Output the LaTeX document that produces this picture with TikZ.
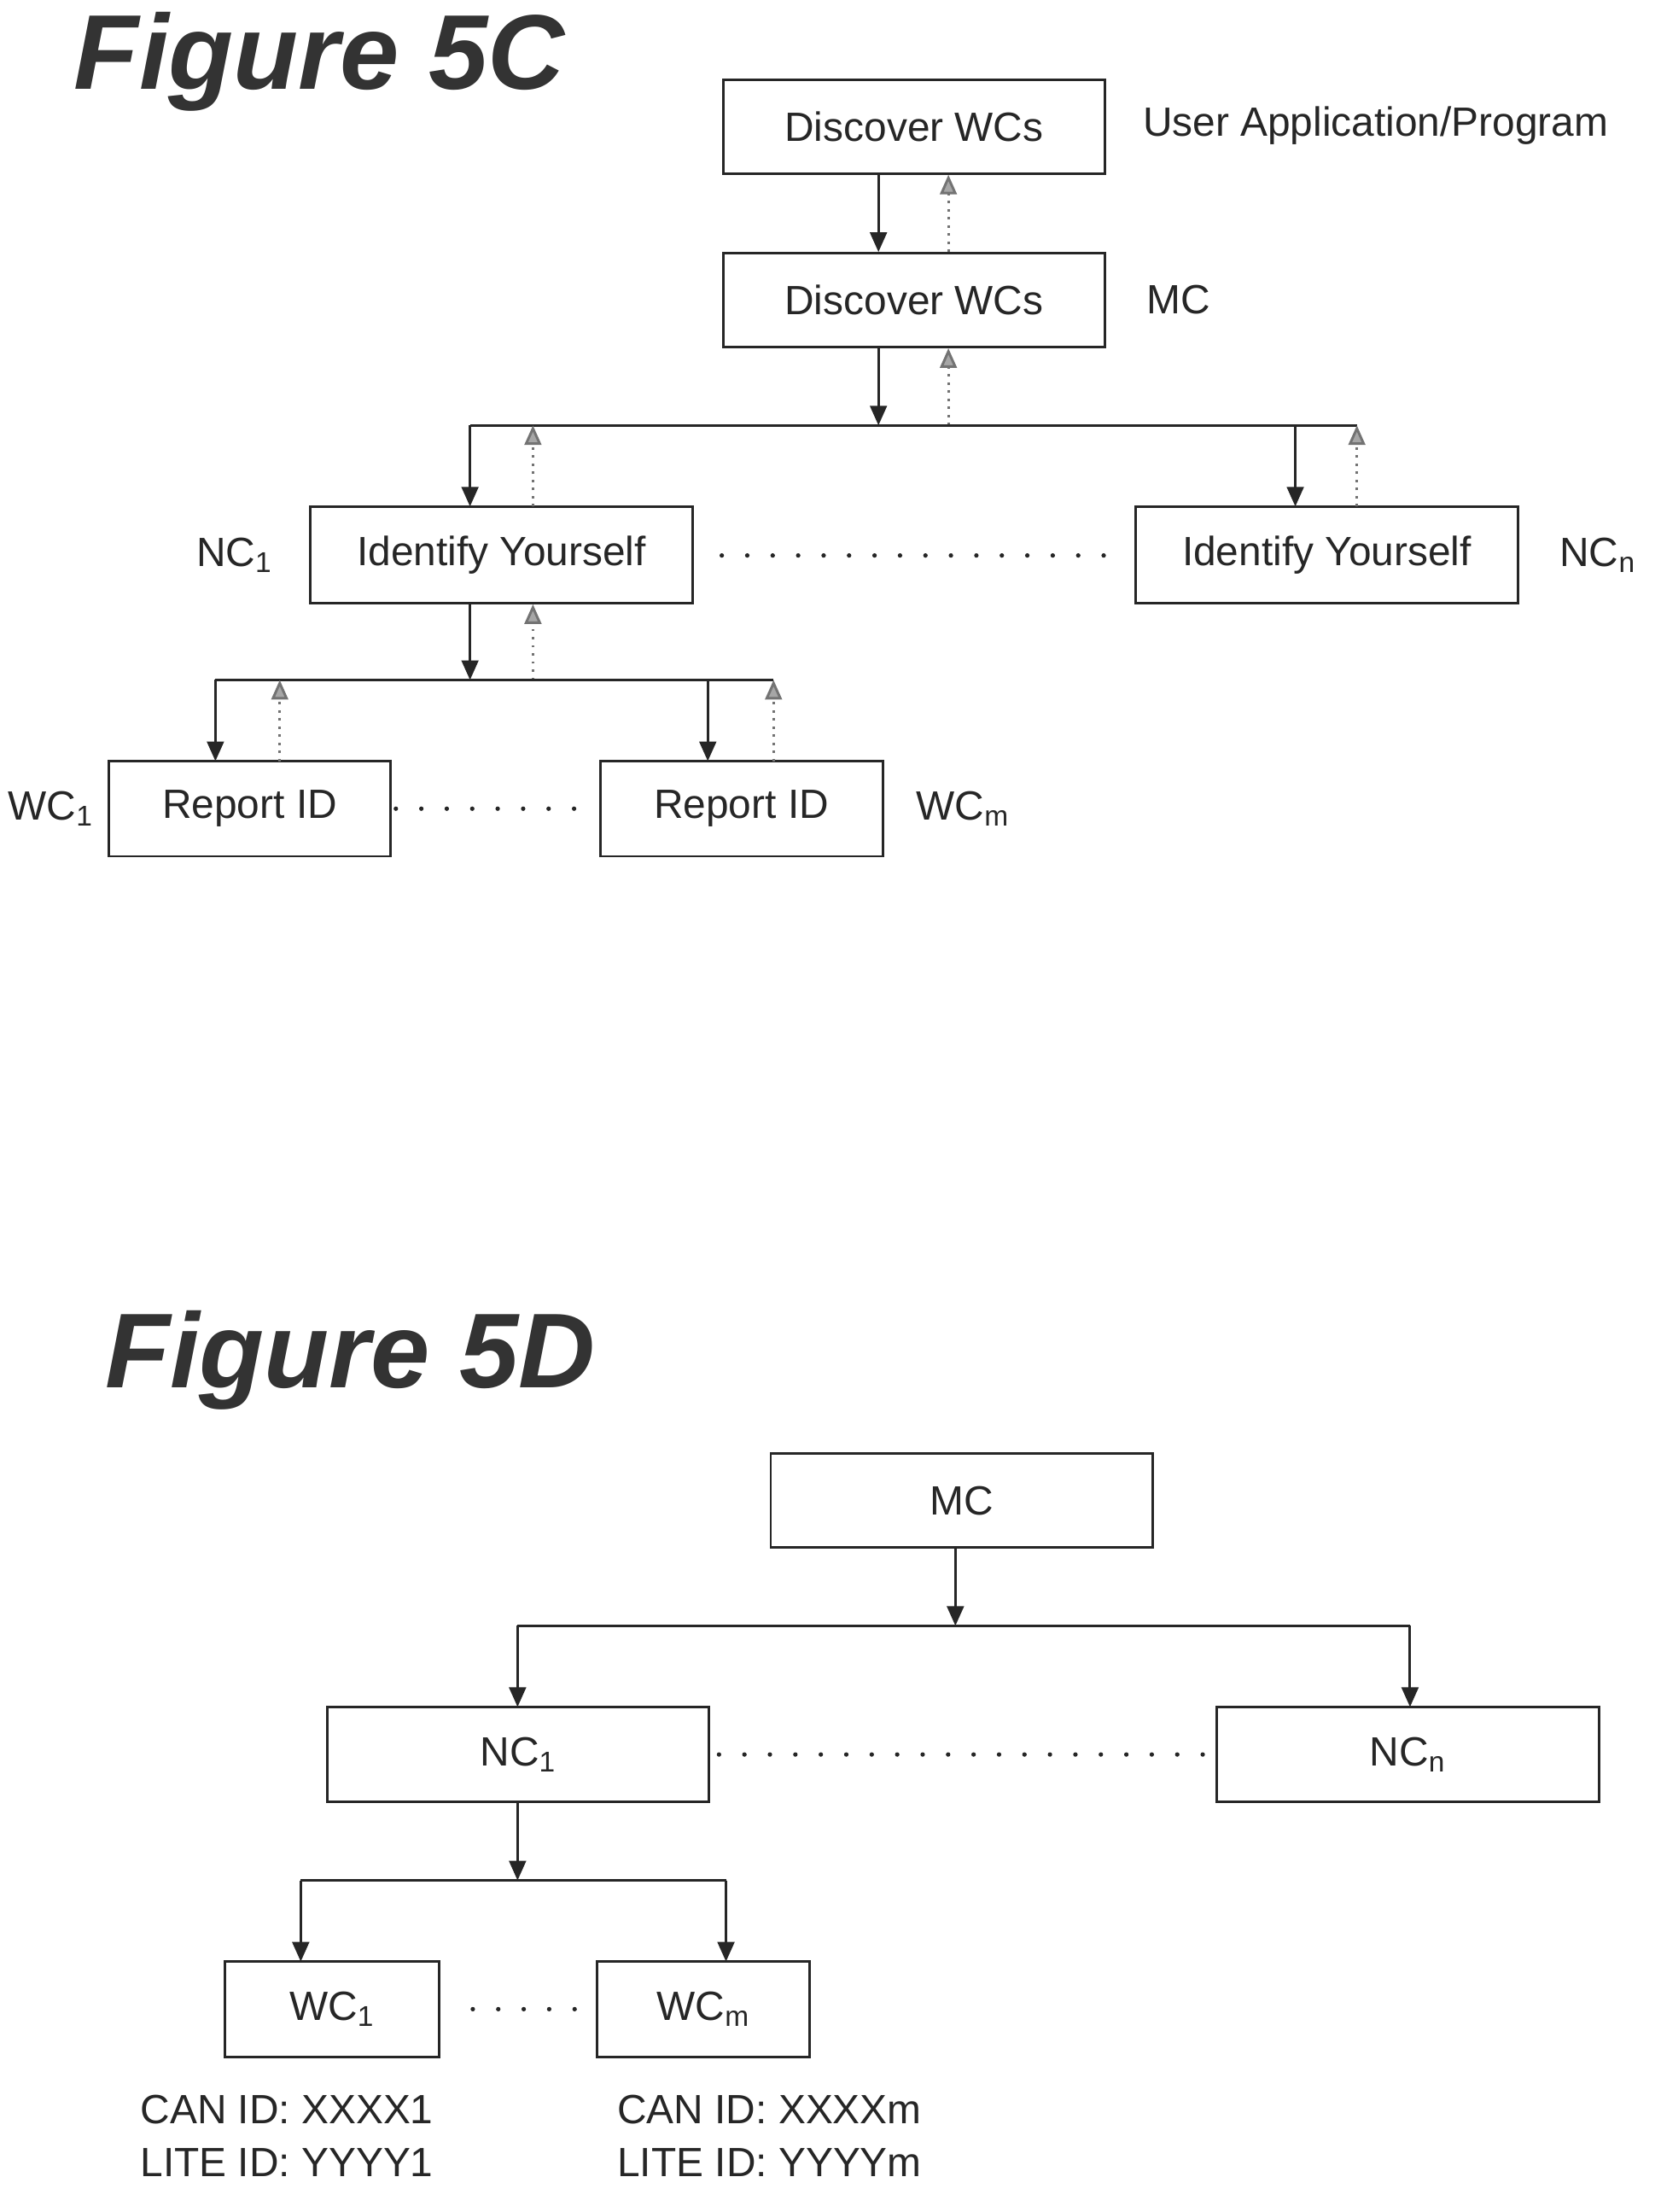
\documentclass[tikz,border=0pt]{standalone}
\usepackage{fontspec}
\setmainfont{Liberation Sans}
\usetikzlibrary{arrows.meta}
\begin{document}
\begin{tikzpicture}[x=0.5pt,y=-0.5pt,
  box/.style={draw=black!85,line width=0.9pt,inner sep=0pt},
  txt/.style={font=\fontsize{14.6}{16}\selectfont,text=black!85},
  ttl/.style={font=\fontsize{38}{40}\selectfont\bfseries\itshape,text=black!80},
  ln/.style={draw=black!85,line width=0.9pt},
  dn/.style={ln,-{Triangle[width=6pt,length=7pt]}},
  up/.style={draw=black!55,line width=0.9pt,dotted,-{Triangle[fill=black!35,width=6pt,length=7pt]}},
  dots/.style={draw=black!85,line width=1.6pt,dash pattern=on 0pt off 9.1pt,line cap=round}]
\useasboundingbox (0,0) rectangle (1187,1581);
% Figure 5C
\node[ttl,anchor=west] (t1) at (46,44) {Figure 5C};
\node[box,minimum width=136.5pt,minimum height=33.5pt,txt] (b1) at (653.5,90.5) {Discover WCs};
\node[txt,anchor=west] (l1) at (810,90) {User Application/Program};
\node[box,minimum width=136.5pt,minimum height=33.5pt,txt] (b2) at (653.5,214.5) {Discover WCs};
\node[txt,anchor=west] (l2) at (813,214) {MC};
\node[box,minimum width=136.5pt,minimum height=34.5pt,txt] (n1) at (358.5,396.5) {Identify Yourself};
\node[box,minimum width=136.5pt,minimum height=34.5pt,txt] (nn) at (948.5,396.5) {Identify Yourself};
\node[txt,anchor=east] (ln1) at (202,397) {NC\textsubscript{1}};
\node[txt,anchor=west] (lnn) at (1108,397) {NC\textsubscript{n}};
\node[box,minimum width=100.5pt,minimum height=34pt,txt] (w1) at (178.5,578) {Report ID};
\node[box,minimum width=101pt,minimum height=34pt,txt] (wm) at (530,578) {Report ID};
\node[txt,anchor=east] (lw1) at (74,578) {WC\textsubscript{1}};
\node[txt,anchor=west] (lwm) at (648,578) {WC\textsubscript{m}};
\coordinate (j1) at (628,304); \coordinate (j1u) at (678,304);
\coordinate (j2) at (336,486); \coordinate (j2u) at (381,486);
\draw[dn] (b1.south -| j1) -- (b2.north -| j1);
\draw[up] (b2.north -| j1u) -- (b1.south -| j1u);
\draw[dn] (b2.south -| j1) -- (j1);
\draw[up] (j1u) -- (b2.south -| j1u);
\draw[ln] (336,304) -- (970,304);
\draw[dn] (336,304) -- (336,362);
\draw[up] (381,362) -- (381,304);
\draw[dn] (926,304) -- (926,362);
\draw[up] (970,362) -- (970,304);
\draw[dots] (516,397) -- (790,397);
\draw[dn] (n1.south -| j2) -- (j2);
\draw[up] (j2u) -- (n1.south -| j2u);
\draw[ln] (154,486) -- (553,486);
\draw[dn] (154,486) -- (154,544);
\draw[up] (200,544) -- (200,486);
\draw[dn] (506,486) -- (506,544);
\draw[up] (553,544) -- (553,486);
\draw[dots] (283,578) -- (420,578);
% Figure 5D
\node[ttl,anchor=west] (t2) at (68,972) {Figure 5D};
\node[box,minimum width=136.5pt,minimum height=33.5pt,txt] (mc) at (687.5,1072.5) {MC};
\node[box,minimum width=136.5pt,minimum height=34pt,txt] (d1) at (370.5,1254) {NC\textsubscript{1}};
\node[box,minimum width=136.5pt,minimum height=34pt,txt] (dn) at (1006.5,1254) {NC\textsubscript{n}};
\node[box,minimum width=76.5pt,minimum height=34pt,txt] (e1) at (237.5,1436) {WC\textsubscript{1}};
\node[box,minimum width=76pt,minimum height=34pt,txt] (em) at (503,1436) {WC\textsubscript{m}};
\draw[dn] (683,1106) -- (683,1162);
\draw[ln] (370,1162) -- (1008,1162);
\draw[dn] (370,1162) -- (370,1220);
\draw[dn] (1008,1162) -- (1008,1220);
\draw[dots] (514,1254) -- (866,1254);
\draw[dn] (370,1288) -- (370,1344);
\draw[ln] (215,1344) -- (519,1344);
\draw[dn] (215,1344) -- (215,1402);
\draw[dn] (519,1344) -- (519,1402);
\draw[dots] (338,1436) -- (424,1436);
\node[txt,anchor=north west,align=left,inner sep=0pt,font=\fontsize{14.6}{19}\selectfont] (c1) at (100,1497) {CAN ID: XXXX1\\LITE ID: YYYY1};
\node[txt,anchor=north west,align=left,inner sep=0pt,font=\fontsize{14.6}{19}\selectfont] (c2) at (441,1497) {CAN ID: XXXXm\\LITE ID: YYYYm};
\end{tikzpicture}
\end{document}
